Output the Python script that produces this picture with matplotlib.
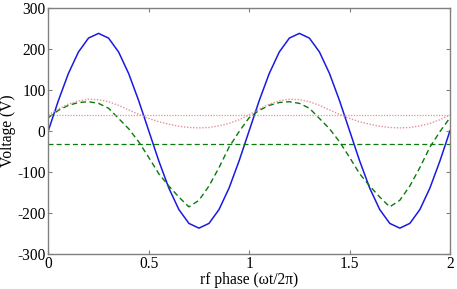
import matplotlib
matplotlib.use("Agg")
import matplotlib.pyplot as plt

phase = [0.00, 0.05, 0.10, 0.15, 0.20, 0.25, 0.30, 0.35, 0.40, 0.45,
         0.50, 0.55, 0.60, 0.65, 0.70, 0.75, 0.80, 0.85, 0.90, 0.95,
         1.00, 1.05, 1.10, 1.15, 1.20, 1.25, 1.30, 1.35, 1.40, 1.45,
         1.50, 1.55, 1.60, 1.65, 1.70, 1.75, 1.80, 1.85, 1.90, 1.95, 2.00]

rf_voltage = [0, 73.5, 139.9, 192.5, 226.4, 238, 226.4, 192.5, 139.9, 73.5,
              0, -73.5, -139.9, -192.5, -226.4, -238, -226.4, -192.5, -139.9, -73.5,
              0, 73.5, 139.9, 192.5, 226.4, 238, 226.4, 192.5, 139.9, 73.5,
              0, -73.5, -139.9, -192.5, -226.4, -238, -226.4, -192.5, -139.9, -73.5, 0]

electrode_voltage = [32, 50, 62, 69, 71, 67, 55, 30, 5, -27,
                     -65, -105, -135, -162, -186, -170, -135, -90, -40, -2,
                     32, 50, 62, 69, 71, 67, 55, 30, 5, -27,
                     -65, -105, -135, -162, -186, -170, -135, -90, -40, -2, 32]

plasma_potential = [39, 53, 65, 73, 77, 76, 71, 62, 51, 40,
                    30, 22, 16, 11, 8, 7, 8, 12, 18, 27,
                    39, 53, 65, 73, 77, 76, 71, 62, 51, 40,
                    30, 22, 16, 11, 8, 7, 8, 12, 18, 27, 39]

dc_bias = -32
mean_plasma = 38

xticks = [0, 0.5, 1, 1.5, 2]
xticklabels = ["0", "0.5", "1", "1.5", "2"]
yticks = [-300, -200, -100, 0, 100, 200, 300]
yticklabels = ["-300", "-200", "-100", "0", "100", "200", "300"]

plt.rcParams['font.family'] = ['Liberation Serif', 'DejaVu Serif']

fig = plt.figure(figsize=(4.57, 2.89), dpi=100)
ax = fig.add_axes([0.1057, 0.1228, 0.8790, 0.8495])

ax.plot(phase, rf_voltage, color='#1a1ae0', lw=1.1, ls='-')
ax.plot(phase, electrode_voltage, color='#0a7a0a', lw=1.0, ls=(0, (4, 2.5)))
ax.plot(phase, plasma_potential, color='#e8909c', lw=1.0, ls=(0, (1, 1.2)))
ax.plot([phase[0], phase[-1]], [dc_bias, dc_bias], color='#0a7a0a', lw=0.9, ls=(0, (4, 2.5)))
ax.plot([phase[0], phase[-1]], [mean_plasma, mean_plasma], color='#e8909c', lw=0.9, ls=(0, (1, 1.2)))

ax.set_xlim(0, 2)
ax.set_ylim(-300, 300)
ax.set_xticks(xticks)
ax.set_xticklabels(xticklabels)
ax.set_yticks(yticks)
ax.set_yticklabels(yticklabels)
ax.tick_params(direction='in', top=True, right=True, length=3, width=0.8,
               color='#808080', labelsize=11.2, pad=2)
for s in ax.spines.values():
    s.set_color('#808080')
    s.set_linewidth(1.0)

ax.set_xlabel('rf phase (\u03c9t/2\u03c0)', fontsize=11.2, labelpad=0)
ax.set_ylabel('Voltage (V)', fontsize=11.2, labelpad=1)

fig.savefig('out.png', dpi=100)
